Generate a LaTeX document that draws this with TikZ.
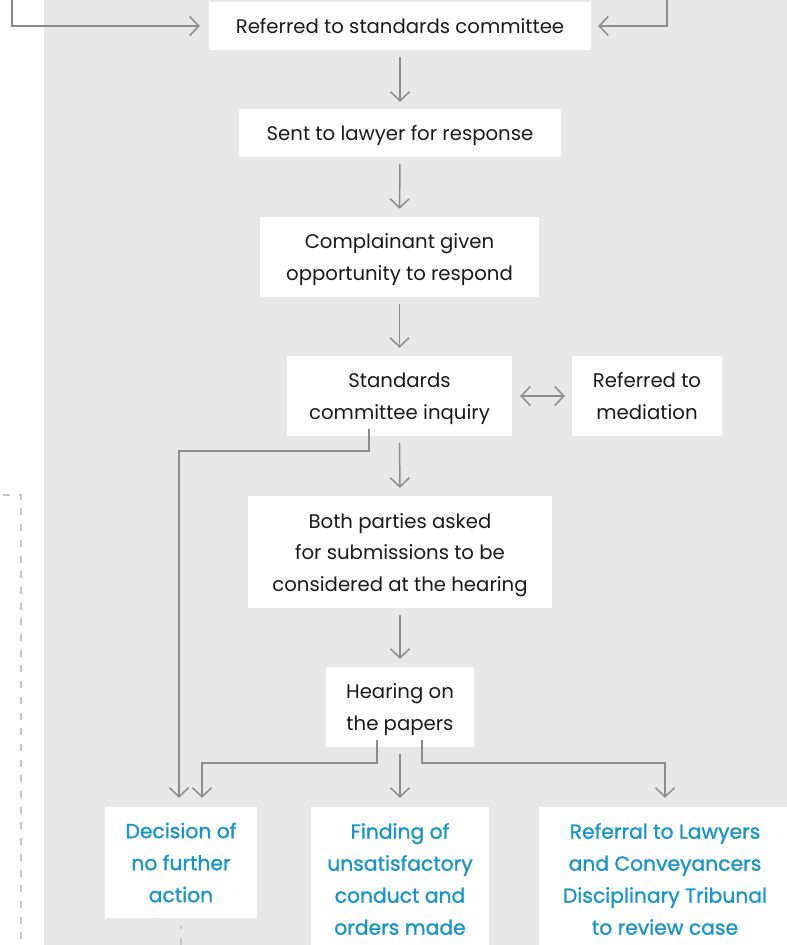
\documentclass[tikz,border=0pt]{standalone}
\usepackage{fontspec}
\setmainfont{Poppins}
\newfontfamily\bluefont[FakeBold=1.2]{Poppins}
\usetikzlibrary{arrows.meta}
\newcommand\nodepth[1]{\raisebox{0pt}[\height][0pt]{#1}}
\definecolor{bggrey}{HTML}{E8E8E8}
\definecolor{linegrey}{HTML}{8C8C8C}
\definecolor{dashgrey}{HTML}{C6C6C6}
\definecolor{txt}{HTML}{1A1A1A}
\definecolor{bluetxt}{HTML}{1895CB}
\tikzset{
  x=1pt, y=-1pt,
  stepbox/.style={fill=white, inner sep=0pt, align=center, text=txt,
    font=\fontsize{19.7}{31.5}\selectfont},
  outbox/.style={fill=white, inner sep=0pt, align=center, text=bluetxt,
    font=\bluefont\fontsize{20.3}{32}\selectfont},
  arr/.style={draw=linegrey, line width=1.5pt,
    -{Straight Barb[length=9pt,width=19pt,line width=1.5pt]}},
  darr/.style={draw=linegrey, line width=1.5pt,
    {Straight Barb[length=9pt,width=19pt,line width=1.5pt]}-{Straight Barb[length=9pt,width=19pt,line width=1.5pt]}},
  dashline/.style={draw=dashgrey, line width=1.3pt, dash pattern=on 7pt off 8.7pt},
}
\begin{document}
\begin{tikzpicture}
\useasboundingbox (0,0) rectangle (787,945);
\clip (0,0) rectangle (787,945);
\fill[bggrey] (44,0) rectangle (787,945);

\node[stepbox, minimum width=382pt, minimum height=48pt] (b1) at (400,26) {Referred to standards committee};
\node[stepbox, minimum width=322pt, minimum height=48pt] (b2) at (400,133) {\nodepth{Sent to lawyer for response}};
\node[stepbox, minimum width=279pt, minimum height=80pt] (b3) at (399.5,257) {Complainant given\\\nodepth{opportunity to respond}};
\node[stepbox, minimum width=225pt, minimum height=80pt] (b4) at (399.5,396) {Standards\\\nodepth{committee inquiry}};
\node[stepbox, minimum width=150pt, minimum height=80pt] (med) at (647,396) {Referred to\\mediation};
\node[stepbox, minimum width=304pt, minimum height=112pt] (b5) at (400,552) {Both parties asked\\for submissions to be\\\nodepth{considered at the hearing}};
\node[stepbox, minimum width=148pt, minimum height=80pt] (b6) at (400,707) {Hearing on\\\nodepth{the papers}};
\node[outbox, minimum width=152pt, minimum height=111pt] (dec) at (181,862.5) {Decision of\\no further\\action};
\node[outbox, minimum width=178pt, minimum height=144pt] (fin) at (400,879) {Finding of\\unsatisfactory\\conduct and\\orders made};
\node[outbox, minimum width=252pt, minimum height=144pt] (ref) at (665,879) {Referral to Lawyers\\and Conveyancers\\Disciplinary Tribunal\\to review case};

\coordinate (tl) at (12,0);
\coordinate (tr) at (667,0);
\draw[arr, shorten >=9pt] (tl) |- (b1.west);
\draw[arr, shorten >=7pt] (tr) |- (b1.east);

\draw[arr, shorten <=7pt, shorten >=7pt] (b1.south) -- (b2.north);
\draw[arr, shorten <=7pt, shorten >=8pt] (b2.south) -- (b3.north);
\draw[arr, shorten <=7pt, shorten >=8pt] (b3.south) -- (b4.north);
\draw[darr, shorten <=8pt, shorten >=7pt] (b4.east) -- (med.west);
\draw[arr, shorten <=7pt, shorten >=8pt] (b4.south) -- (b5.north);
\draw[arr, shorten <=7pt, shorten >=8pt] (b5.south) -- (b6.north);

\draw[arr, shorten >=9pt] ([xshift=-30.5pt,yshift=7pt]b4.south) -- ++(0,22) -| ([xshift=-2pt]dec.north);
\draw[arr, shorten >=9pt] ([xshift=-23pt,yshift=7pt]b6.south) -- ++(0,23) -| ([xshift=21pt]dec.north);
\draw[arr, shorten <=7pt, shorten >=9pt] (b6.south) -- (fin.north);
\draw[arr, shorten >=9pt] ([xshift=22pt,yshift=7pt]b6.south) -- ++(0,23) -| (ref.north);

\coordinate (dstart) at (3,495);
\coordinate (dcorner) at (21,495);
\coordinate (dend) at (21,945);
\draw[dashline] (dstart) -- (dcorner) -- (dend);
\coordinate (decend) at (181,950);
\draw[draw=dashgrey, line width=1.3pt, dash pattern=on 3pt off 9pt on 8pt off 9pt, shorten <=8pt] (dec.south) -- (decend);
\end{tikzpicture}
\end{document}
